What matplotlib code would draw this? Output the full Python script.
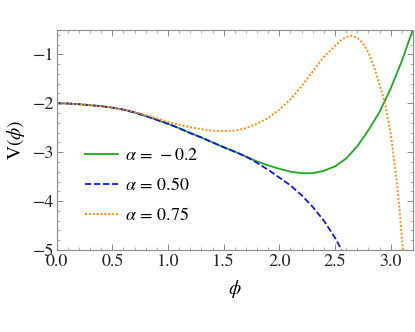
import matplotlib.pyplot as plt
from matplotlib.ticker import MultipleLocator

plt.rcParams['mathtext.fontset'] = 'stix'
plt.rcParams['font.family'] = ['STIXGeneral', 'Liberation Serif', 'DejaVu Serif']

# values
phi_common = [0.0, 0.1, 0.2, 0.3, 0.4, 0.5, 0.6, 0.7, 0.8, 0.9, 1.0, 1.1, 1.2,
              1.3, 1.4, 1.5, 1.6, 1.7]
v_common = [-2.00, -2.005, -2.02, -2.04, -2.06, -2.09, -2.13, -2.19, -2.26,
            -2.34, -2.42, -2.51, -2.61, -2.70, -2.80, -2.90, -2.99, -3.09]

phi_green = phi_common + [1.8, 1.9, 2.0, 2.1, 2.2, 2.3, 2.4, 2.5, 2.6, 2.7,
                          2.8, 2.9, 3.0, 3.1, 3.2]
v_green = v_common + [-3.19, -3.27, -3.34, -3.40, -3.43, -3.43, -3.38, -3.29,
                      -3.13, -2.88, -2.55, -2.18, -1.70, -1.14, -0.49]

phi_blue = phi_common + [1.8, 1.9, 2.0, 2.1, 2.2, 2.3, 2.4, 2.5, 2.56]
v_blue = v_common + [-3.22, -3.36, -3.52, -3.68, -3.88, -4.12, -4.40, -4.75, -5.0]

phi_orange = [0.0, 0.1, 0.2, 0.3, 0.4, 0.5, 0.6, 0.7, 0.8, 0.9, 1.0, 1.1, 1.2,
              1.3, 1.4, 1.5, 1.6, 1.7, 1.8, 1.9, 2.0, 2.1, 2.2, 2.3, 2.4, 2.5,
              2.55, 2.6, 2.65, 2.7, 2.75, 2.8, 2.85, 2.9, 2.95, 3.0, 3.05, 3.08,
              3.11]
v_orange = [-2.00, -2.005, -2.02, -2.04, -2.06, -2.09, -2.13, -2.18, -2.24,
            -2.31, -2.38, -2.44, -2.49, -2.53, -2.56, -2.57, -2.56, -2.51,
            -2.42, -2.30, -2.13, -1.92, -1.65, -1.35, -1.05, -0.83, -0.72,
            -0.645, -0.62, -0.66, -0.77, -0.96, -1.25, -1.62, -2.00, -2.62,
            -3.50, -4.18, -5.0]

labels = [r'$\alpha\,=\,-0.2$', r'$\alpha\,=\,0.50$', r'$\alpha\,=\,0.75$']

fig = plt.figure(figsize=(4.15, 3.32), dpi=100)
ax = fig.add_axes([0.1366, 0.247, 0.8584, 0.663])

ax.plot(phi_green, v_green, color='#1fa71f', lw=1.3, label=labels[0])
ax.plot(phi_blue, v_blue, color='#1515e6', lw=1.3, ls=(0, (3.5, 1.5)), label=labels[1])
ax.plot(phi_orange, v_orange, color='#ff8a14', lw=1.4, ls=(0, (1, 1)), label=labels[2])

ax.set_xlim(0, 3.2)
ax.set_ylim(-5, -0.5)
ax.xaxis.set_minor_locator(MultipleLocator(0.1))
ax.yaxis.set_minor_locator(MultipleLocator(0.2))
ax.set_xticks([0, 0.5, 1.0, 1.5, 2.0, 2.5, 3.0])
ax.set_xticklabels(['0.0', '0.5', '1.0', '1.5', '2.0', '2.5', '3.0'])
ax.set_yticks([-5, -4, -3, -2, -1])
ax.set_yticklabels(['\u22125', '\u22124', '\u22123', '\u22122', '\u22121'])

for s in ax.spines.values():
    s.set_color('#8c8c8c')
    s.set_linewidth(0.8)
ax.tick_params(which='both', direction='in', color='#8c8c8c', labelsize=13,
               labelcolor='#222222', top=True, right=True)
ax.tick_params(which='major', length=4.5, width=0.7)
ax.tick_params(axis='x', which='major', pad=3)
ax.tick_params(axis='y', which='major', pad=2)
ax.tick_params(which='minor', length=2.5, width=0.5)

ax.set_xlabel(r'$\phi$', fontsize=14, labelpad=6)
ax.set_ylabel(r'$\mathrm{V}(\phi)$', fontsize=14, labelpad=4)

ax.legend(loc='center left', bbox_to_anchor=(0.035, 0.29), frameon=False,
          fontsize=13, handlelength=1.8, handletextpad=0.4, labelspacing=0.72)

fig.savefig('out.png', dpi=100)
